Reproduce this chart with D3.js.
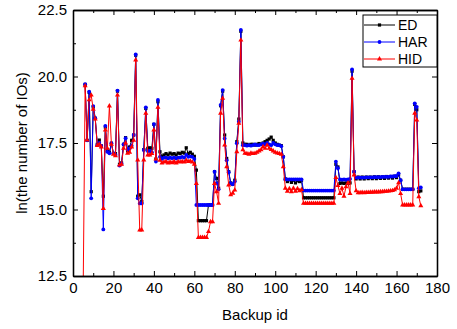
<!DOCTYPE html>
<html>
<head>
<meta charset="utf-8">
<script src="https://cdn.jsdelivr.net/npm/d3@7"></script>
<style>
  body { margin: 0; background: #fff; }
  text { font-family: "Liberation Sans", Arial, sans-serif; }
</style>
</head>
<body>
<div id="chart"></div>
<script>
// backup ids 5..172
const backupIds = d3.range(5, 173);

const edValues = [null,
  19.7, 17.6, 19.4, 15.67, 18.85, 18.43, 17.45, 17.61, 17.39, 15.5,
  18.1, 17.2, 17.15, 17.49, 17.11, 17.1, 19.45, 16.7, 16.75, 17.45,
  17.7, 17.2, 17.35, 17.6, 17.8, 20.8, 15.5, 15.55, 15.3, 17.25,
  18.8, 17.3, 17.32, 17.3, 18.2, 16.9, 19.05, 17.17,
  17.0, 17.05, 17.1, 17.05, 17.12, 17.08, 17.1, 17.05, 17.12, 17.1,
  17.15, 17.12, 17.32, 17.1, 17.15, 17.08, 17.0,
  16.48, 14.58, 14.58, 14.58, 14.58, 14.58, 15.17, 15.17, 15.17,
  16.42, 16.17, 15.8, 18.9, 19.45, 17.8, 16.92, 16.42, 16.0, 15.95,
  16.1, 17.55, 18.4, 21.7,
  17.5, 17.45, 17.45, 17.42, 17.45, 17.45, 17.42, 17.45, 17.48, 17.45,
  17.5, 17.55, 17.6, 17.65, 17.72, 17.6, 17.5, 17.45, 17.42, 17.4,
  16.98,
  16.15, 16.05, 16.12, 16.02, 16.1, 16.0, 16.08, 16.05, 16.1,
  15.44, 15.44, 15.44, 15.44, 15.44, 15.44, 15.44, 15.44,
  15.44, 15.44, 15.44, 15.44, 15.44, 15.44, 15.44, 15.44,
  16.7, 16.6, 15.98, 16.0, 15.98, 16.0, 15.98, 16.0,
  20.2, 16.42, 16.15,
  16.22, 16.15, 16.22, 16.15, 16.22, 16.16, 16.22, 16.16, 16.23, 16.16,
  16.23, 16.17, 16.23, 16.17, 16.24, 16.18, 16.24, 16.18, 16.25, 16.2,
  16.3, 16.1,
  15.76, 15.76, 15.76, 15.76, 15.76, 15.76,
  18.95, 18.75, 15.67, 15.7
];

const harValues = [null,
  19.71, 17.6, 19.43, 15.42, 18.89, 18.43, 17.42, 17.5, 17.39, 14.25,
  18.14, 17.17, 17.11, 17.49, 17.11, 17.05, 19.47, 16.65, 16.72, 17.45,
  17.68, 17.25, 17.3, 17.4, 17.8, 20.83, 15.42, 15.23, 15.23, 17.24,
  18.84, 17.2, 17.2, 17.15, 18.21, 16.8, 19.12, 16.98,
  16.9, 16.95, 16.95, 16.92, 16.95, 16.93, 16.95, 16.92, 16.95, 16.95,
  16.98, 16.95, 17.05, 16.98, 17.0, 16.98, 16.9,
  15.17, 15.17, 15.17, 15.17, 15.17, 15.17, 15.17, 15.17, 15.17,
  16.42, 15.98, 15.76, 18.93, 19.49, 17.67, 16.85, 16.4, 15.98, 15.95,
  16.05, 17.49, 18.3, 21.75,
  17.42, 17.42, 17.4, 17.42, 17.4, 17.42, 17.45, 17.42, 17.42, 17.45,
  17.48, 17.45, 17.5, 17.45, 17.42, 17.5, 17.45, 17.42, 17.42, 17.38,
  16.98,
  16.13, 16.13, 16.13, 16.13, 16.13, 16.13, 16.13, 16.13, 16.13,
  15.71, 15.71, 15.71, 15.71, 15.71, 15.71, 15.71, 15.71,
  15.71, 15.71, 15.71, 15.71, 15.71, 15.71, 15.71, 15.71,
  16.8, 16.55, 16.13, 16.12, 16.13, 16.12, 16.13, 16.15,
  20.27, 16.42, 16.2,
  16.2, 16.2, 16.2, 16.2, 16.21, 16.21, 16.21, 16.21, 16.22, 16.22,
  16.22, 16.22, 16.23, 16.23, 16.23, 16.23, 16.24, 16.24, 16.25, 16.26,
  16.36, 16.1,
  15.76, 15.76, 15.76, 15.76, 15.76, 15.76,
  18.99, 18.86, 15.8, 15.83
];

const hidValues = [11.8,
  19.65, 17.61, 19.12, 19.3, 18.77, 18.4, 17.4, 17.45, 17.35, 15.04,
  17.99, 17.3, 18.89, 17.45, 17.08, 17.02, 19.3, 16.67, 16.7, 17.3,
  17.5, 17.11, 17.15, 17.35, 17.6, 20.62, 16.86, 14.23, 14.23, 16.86,
  18.62, 17.05, 17.05, 17.1, 17.99, 16.9, 18.84, 16.85,
  16.75, 16.78, 16.8, 16.75, 16.78, 16.76, 16.8, 16.75, 16.8, 16.78,
  16.8, 16.78, 16.85, 16.8, 16.82, 16.78, 16.7,
  15.98, 13.95, 13.95, 13.95, 13.95, 13.95, 14.17, 14.54, 14.54,
  15.98, 15.67, 15.23, 18.62, 19.18, 17.42, 16.61, 15.92, 15.55, 15.61,
  15.73, 17.17, 18.24, 21.37,
  17.24, 17.11, 17.1, 17.08, 17.12, 17.1, 17.11, 17.15, 17.2, 17.24,
  17.36, 17.3, 17.42, 17.3, 17.25, 17.2, 17.15, 17.12, 17.1, 17.08,
  16.61,
  15.8, 15.68, 15.78, 15.67, 15.8, 15.68, 15.78, 15.7, 15.75,
  15.23, 15.23, 15.23, 15.23, 15.23, 15.23, 15.23, 15.23,
  15.23, 15.23, 15.23, 15.23, 15.23, 15.23, 15.23, 15.23,
  16.2, 15.9, 15.6, 15.8, 15.5, 15.85, 16.0, 15.6,
  19.93, 16.3, 15.7,
  15.63, 15.63, 15.64, 15.63, 15.64, 15.64, 15.65, 15.65, 15.66, 15.66,
  15.66, 15.67, 15.67, 15.68, 15.68, 15.69, 15.7, 15.71, 15.74, 15.8,
  16.0, 15.6,
  15.17, 15.17, 15.17, 15.17, 15.17, 15.17,
  18.62, 18.36, 15.48, 15.14
];

const seriesNames = ["ED", "HAR", "HID"];
const seriesColors = ["#000000", "#0000ff", "#ff0000"];
const xTicks = [0, 20, 40, 60, 80, 100, 120, 140, 160, 180];
const yTicks = [12.5, 15.0, 17.5, 20.0, 22.5];

const W = 457, H = 329;
const margin = { top: 10, right: 20, bottom: 53, left: 73 };
const iw = W - margin.left - margin.right;
const ih = H - margin.top - margin.bottom;

const svg = d3.select("#chart").append("svg")
  .attr("width", W).attr("height", H);

const g = svg.append("g")
  .attr("transform", `translate(${margin.left},${margin.top})`);

const x = d3.scaleLinear().domain([0, 180]).range([0, iw]);
const y = d3.scaleLinear().domain([12.5, 22.5]).range([ih, 0]);

g.append("clipPath").attr("id", "clip")
  .append("rect").attr("width", iw).attr("height", ih);

const series = [edValues, harValues, hidValues].map((vals, i) => ({
  name: seriesNames[i],
  color: seriesColors[i],
  points: backupIds.map((id, j) => ({ id, v: vals[j] })).filter(d => d.v != null)
}));

const line = d3.line().x(d => x(d.id)).y(d => y(d.v));

// marker shapes per series
function drawMarker(sel, i, color) {
  if (i === 0) {
    sel.append("rect").attr("x", -1.6).attr("y", -1.6).attr("width", 3.2).attr("height", 3.2)
      .attr("fill", color);
  } else if (i === 1) {
    sel.append("circle").attr("r", 1.9).attr("fill", color);
  } else {
    sel.append("path").attr("d", d3.symbol(d3.symbolTriangle, 11)()).attr("fill", color);
  }
}

const plot = g.append("g").attr("clip-path", "url(#clip)");

series.forEach((s, i) => {
  plot.append("path")
    .datum(s.points)
    .attr("fill", "none")
    .attr("stroke", s.color)
    .attr("stroke-width", 1)
    .attr("d", line);

  plot.append("g").selectAll("g")
    .data(s.points)
    .join("g")
    .attr("transform", d => `translate(${x(d.id)},${y(d.v)})`)
    .each(function () { drawMarker(d3.select(this), i, s.color); });
});

// axes
const fmt = d3.format(".1f");
const axisStyle = sel => {
  sel.select(".domain").attr("stroke", "#000").attr("stroke-width", 1.3);
  sel.selectAll(".tick line").attr("stroke", "#000").attr("stroke-width", 1);
  sel.selectAll("text").attr("font-size", 15).attr("fill", "#000")
    .attr("font-family", "'Liberation Sans', Arial, sans-serif");
};
const xMinor = d3.range(10, 180, 20);
const yMinor = [13.75, 16.25, 18.75, 21.25];

g.append("g").attr("transform", `translate(0,${ih})`)
  .call(d3.axisBottom(x).tickValues(xTicks).tickSize(-5).tickPadding(6).tickSizeOuter(0))
  .call(axisStyle);
g.append("g").attr("transform", `translate(0,${ih})`)
  .call(d3.axisBottom(x).tickValues(xMinor).tickSize(-3).tickFormat("").tickSizeOuter(0))
  .call(axisStyle);

g.append("g")
  .call(d3.axisLeft(y).tickValues(yTicks).tickFormat(fmt).tickSize(-5).tickPadding(6).tickSizeOuter(0))
  .call(axisStyle);
g.append("g")
  .call(d3.axisLeft(y).tickValues(yMinor).tickSize(-3).tickFormat("").tickSizeOuter(0))
  .call(axisStyle);

g.append("g")
  .call(d3.axisTop(x).tickValues(xTicks).tickSize(-5).tickFormat("").tickSizeOuter(0))
  .call(axisStyle);
g.append("g")
  .call(d3.axisTop(x).tickValues(xMinor).tickSize(-3).tickFormat("").tickSizeOuter(0))
  .call(axisStyle);

g.append("g").attr("transform", `translate(${iw},0)`)
  .call(d3.axisRight(y).tickValues(yTicks).tickSize(-5).tickFormat("").tickSizeOuter(0))
  .call(axisStyle);
g.append("g").attr("transform", `translate(${iw},0)`)
  .call(d3.axisRight(y).tickValues(yMinor).tickSize(-3).tickFormat("").tickSizeOuter(0))
  .call(axisStyle);

// axis titles
svg.append("text")
  .attr("x", margin.left + iw / 2).attr("y", 320)
  .attr("text-anchor", "middle").attr("font-size", 15)
  .text("Backup id");

svg.append("text")
  .attr("transform", `translate(27,${margin.top + ih / 2}) rotate(-90)`)
  .attr("text-anchor", "middle").attr("font-size", 15)
  .text("ln(the number of IOs)");

// legend
const legend = svg.append("g");
legend.append("rect")
  .attr("x", 363).attr("y", 15).attr("width", 74).attr("height", 52)
  .attr("fill", "#fff").attr("stroke", "#000").attr("stroke-width", 1);

series.forEach((s, i) => {
  const ly = 25 + i * 17;
  const row = legend.append("g").attr("transform", `translate(0,${ly})`);
  row.append("line").attr("x1", 364).attr("x2", 395).attr("y1", 0).attr("y2", 0)
    .attr("stroke", s.color).attr("stroke-width", 1);
  const m = row.append("g").attr("transform", "translate(379.5,0)");
  drawMarker(m, i, s.color);
  row.append("text").attr("x", 398).attr("y", 5).attr("font-size", 14).text(s.name);
});
</script>
</body>
</html>
